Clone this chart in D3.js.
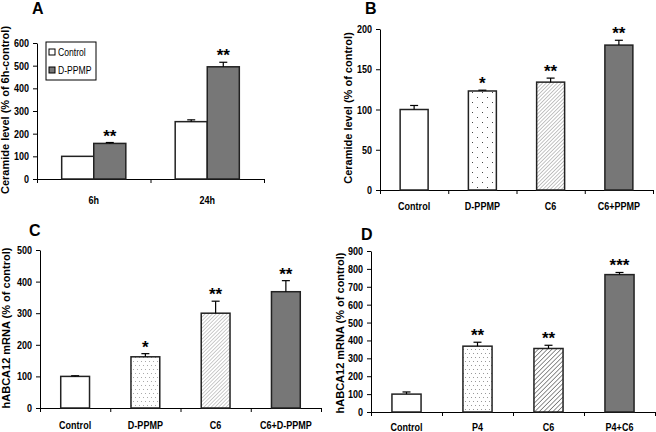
<!DOCTYPE html>
<html><head><meta charset="utf-8">
<script src="https://cdn.jsdelivr.net/npm/d3@7"></script>
<style>
html,body{margin:0;padding:0;background:#fff;}
svg text{font-family:"Liberation Sans",Arial,sans-serif;}
</style>
</head><body>
<svg id="chart" width="656" height="432"></svg>
<script>
// ---------- DATA ----------
// Panel A (grouped)
const aGroups = ["6h", "24h"];
const aSeries = ["Control", "D-PPMP"];
const aControl = [100, 253];
const aControlErr = [0, 8];
const aDppmp = [157, 495];
const aDppmpErr = [4, 20];
const aSigControl = ["", ""];
const aSigDppmp = ["**", "**"];
const aTicks = [0, 100, 200, 300, 400, 500, 600];

// Panel B
const bCats = ["Control", "D-PPMP", "C6", "C6+PPMP"];
const bVals = [100, 123, 134, 180];
const bErr = [5, 1, 5, 6];
const bSig = ["", "*", "**", "**"];
const bTicks = [0, 50, 100, 150, 200];

// Panel C
const cCats = ["Control", "D-PPMP", "C6", "C6+D-PPMP"];
const cVals = [100, 162, 300, 368];
const cErr = [2, 10, 38, 35];
const cSig = ["", "*", "**", "**"];
const cTicks = [0, 100, 200, 300, 400, 500];

// Panel D
const dCats = ["Control", "P4", "C6", "P4+C6"];
const dVals = [100, 368, 355, 768];
const dErr = [12, 22, 18, 12];
const dSig = ["", "**", "**", "***"];
const dTicks = [0, 100, 200, 300, 400, 500, 600, 700, 800, 900];

// ---------- DRAW ----------
const NARROW = 0.82;
const svg = d3.select("#chart");
const defs = svg.append("defs");

function dotPattern(id, size, pts, color) {
  const p = defs.append("pattern").attr("id", id).attr("patternUnits", "userSpaceOnUse")
    .attr("width", size).attr("height", size);
  p.append("rect").attr("width", size).attr("height", size).attr("fill", "#fff");
  pts.forEach(q => p.append("rect").attr("x", q[0]).attr("y", q[1]).attr("width", 1).attr("height", 1).attr("fill", color));
}
function hatchPattern(id, gap, color, w) {
  const p = defs.append("pattern").attr("id", id).attr("patternUnits", "userSpaceOnUse")
    .attr("width", gap).attr("height", gap).attr("patternTransform", "rotate(45)");
  p.append("rect").attr("width", gap).attr("height", gap).attr("fill", "#fff");
  p.append("line").attr("x1", 0).attr("y1", 0).attr("x2", 0).attr("y2", gap)
    .attr("stroke", color).attr("stroke-width", w);
}
dotPattern("dotsB", 10, [[2, 2], [7, 7]], "#444");
dotPattern("dotsC", 8, [[1, 1], [5, 1], [3, 5], [7, 5]], "#aaa");
dotPattern("dotsD", 8, [[1, 1], [5, 1], [3, 5], [7, 5]], "#999");
hatchPattern("hatchB", 2.6, "#888", 1);
hatchPattern("hatchC", 2.6, "#999", 1);
hatchPattern("hatchD", 3.2, "#222", 1);

const darkFill = "#777";
const barStroke = "#222";

function narrowText(g, x, y, txt, size, weight, anchor) {
  return g.append("text").attr("transform", `translate(${x},${y}) scale(${NARROW},1)`)
    .attr("text-anchor", anchor || "middle")
    .style("font-size", size + "px").style("font-weight", weight || "bold").text(txt);
}

function drawAxes(g, x0, x1, yTop, yBot, nBands, y, ticks, yLabel, yLabelX, yLabelY) {
  const yAxis = d3.axisLeft(y).tickValues(ticks).tickSize(4).tickSizeOuter(0).tickPadding(4);
  const ga = g.append("g").attr("transform", `translate(${x0},0)`).call(yAxis);
  ga.selectAll("text").style("font-size", "11px").style("font-weight", "bold").attr("fill", "#000")
    .attr("x", -8 / NARROW).attr("transform", `scale(${NARROW},1)`);
  ga.selectAll("path,line").attr("stroke", "#000");
  const bx = d3.scaleLinear().domain([0, nBands]).range([x0, x1]);
  const xAxis = d3.axisBottom(bx).tickValues(d3.range(nBands + 1)).tickSize(4).tickSizeOuter(0).tickFormat("");
  const gx = g.append("g").attr("transform", `translate(0,${yBot})`).call(xAxis);
  gx.selectAll("path,line").attr("stroke", "#000");
  g.append("text").attr("transform", `translate(${yLabelX},${yLabelY}) rotate(-90)`)
    .attr("text-anchor", "middle").attr("dy", "0.35em")
    .style("font-size", "11px").style("font-weight", "bold").text(yLabel);
}

function panelTitle(t, x, y) {
  svg.append("text").attr("x", x).attr("y", y).text(t)
    .style("font-size", "16px").style("font-weight", "bold");
}

function errAndSig(g, cx, yv, err, sig, y) {
  if (err > 0) {
    g.append("line").attr("x1", cx).attr("x2", cx).attr("y1", y(yv)).attr("y2", y(yv + err)).attr("stroke", "#000").attr("stroke-width", 1.2);
    g.append("line").attr("x1", cx - 4).attr("x2", cx + 4).attr("y1", y(yv + err)).attr("y2", y(yv + err)).attr("stroke", "#000").attr("stroke-width", 1.2);
  }
  if (sig) {
    g.append("text").attr("x", cx).attr("y", y(yv + err) - 1).attr("text-anchor", "middle")
      .style("font-size", "17px").style("font-weight", "bold").text(sig);
  }
}

function simplePanel(opt) {
  const g = svg.append("g");
  const y = d3.scaleLinear().domain([0, opt.ticks[opt.ticks.length - 1]]).range([opt.yBot, opt.yTop]);
  const x = d3.scaleBand().domain(opt.cats).range([opt.x0, opt.x1]).paddingInner(0.59).paddingOuter(0.295);
  drawAxes(g, opt.x0, opt.x1, opt.yTop, opt.yBot, opt.cats.length, y, opt.ticks, opt.yLabel, opt.yLabelX, opt.yLabelY);
  opt.cats.forEach((c, i) => {
    g.append("rect").attr("x", x(c)).attr("y", y(opt.vals[i])).attr("width", x.bandwidth())
      .attr("height", y(0) - y(opt.vals[i])).attr("fill", opt.fills[i])
      .attr("stroke", barStroke).attr("stroke-width", 1.5);
    errAndSig(g, x(c) + x.bandwidth() / 2, opt.vals[i], opt.err[i], opt.sig[i], y);
    narrowText(g, x(c) + x.bandwidth() / 2, opt.labelY, c, 11);
  });
  panelTitle(opt.title, opt.titleX, opt.titleY);
}

// Panel A
(function () {
  const x0 = 37, x1 = 264, yTop = 43, yBot = 179;
  const g = svg.append("g");
  const y = d3.scaleLinear().domain([0, 600]).range([yBot, yTop]);
  const xg = d3.scaleBand().domain(aGroups).range([x0, x1]).paddingInner(0.435).paddingOuter(0.2175);
  const xs = d3.scaleBand().domain(aSeries).range([0, xg.bandwidth()]);
  drawAxes(g, x0, x1, yTop, yBot, aGroups.length, y, aTicks, "Ceramide level (% of 6h-control)", 5, 110);
  const series = [
    { vals: aControl, err: aControlErr, sig: aSigControl, fill: "#fff" },
    { vals: aDppmp, err: aDppmpErr, sig: aSigDppmp, fill: darkFill }
  ];
  aGroups.forEach((grp, gi) => {
    series.forEach((s, si) => {
      const bx = xg(grp) + xs(aSeries[si]);
      g.append("rect").attr("x", bx).attr("y", y(s.vals[gi])).attr("width", xs.bandwidth())
        .attr("height", y(0) - y(s.vals[gi])).attr("fill", s.fill)
        .attr("stroke", barStroke).attr("stroke-width", 1.5);
      errAndSig(g, bx + xs.bandwidth() / 2, s.vals[gi], s.err[gi], s.sig[gi], y);
    });
    narrowText(g, xg(grp) + xg.bandwidth() / 2, 204, grp, 11);
  });
  // legend
  const lg = g.append("g").attr("transform", "translate(46,42)");
  lg.append("rect").attr("width", 50).attr("height", 38).attr("fill", "#fff").attr("stroke", "#000").attr("stroke-width", 1);
  [["#fff", aSeries[0]], [darkFill, aSeries[1]]].forEach((d, i) => {
    lg.append("rect").attr("x", 3).attr("y", 7 + i * 18).attr("width", 6).attr("height", 6)
      .attr("fill", d[0]).attr("stroke", "#000").attr("stroke-width", 1);
    narrowText(lg, 12, 14 + i * 18, d[1], 10.5, "normal", "start");
  });
  panelTitle("A", 32, 14);
})();

simplePanel({ cats: bCats, vals: bVals, err: bErr, sig: bSig, ticks: bTicks,
  fills: ["#fff", "url(#dotsB)", "url(#hatchB)", darkFill],
  x0: 380, x1: 653, yTop: 29, yBot: 190, labelY: 210,
  yLabel: "Ceramide level (% of control)", yLabelX: 348, yLabelY: 108,
  title: "B", titleX: 365, titleY: 14 });

simplePanel({ cats: cCats, vals: cVals, err: cErr, sig: cSig, ticks: cTicks,
  fills: ["#fff", "url(#dotsC)", "url(#hatchC)", darkFill],
  x0: 40, x1: 321, yTop: 250, yBot: 408, labelY: 429,
  yLabel: "hABCA12 mRNA (% of control)", yLabelX: 6, yLabelY: 328,
  title: "C", titleX: 29, titleY: 236 });

simplePanel({ cats: dCats, vals: dVals, err: dErr, sig: dSig, ticks: dTicks,
  fills: ["#fff", "url(#dotsD)", "url(#hatchD)", darkFill],
  x0: 371, x1: 655, yTop: 251, yBot: 412, labelY: 431,
  yLabel: "hABCA12 mRNA (% of control)", yLabelX: 340, yLabelY: 333,
  title: "D", titleX: 361, titleY: 240 });
</script>
</body></html>
